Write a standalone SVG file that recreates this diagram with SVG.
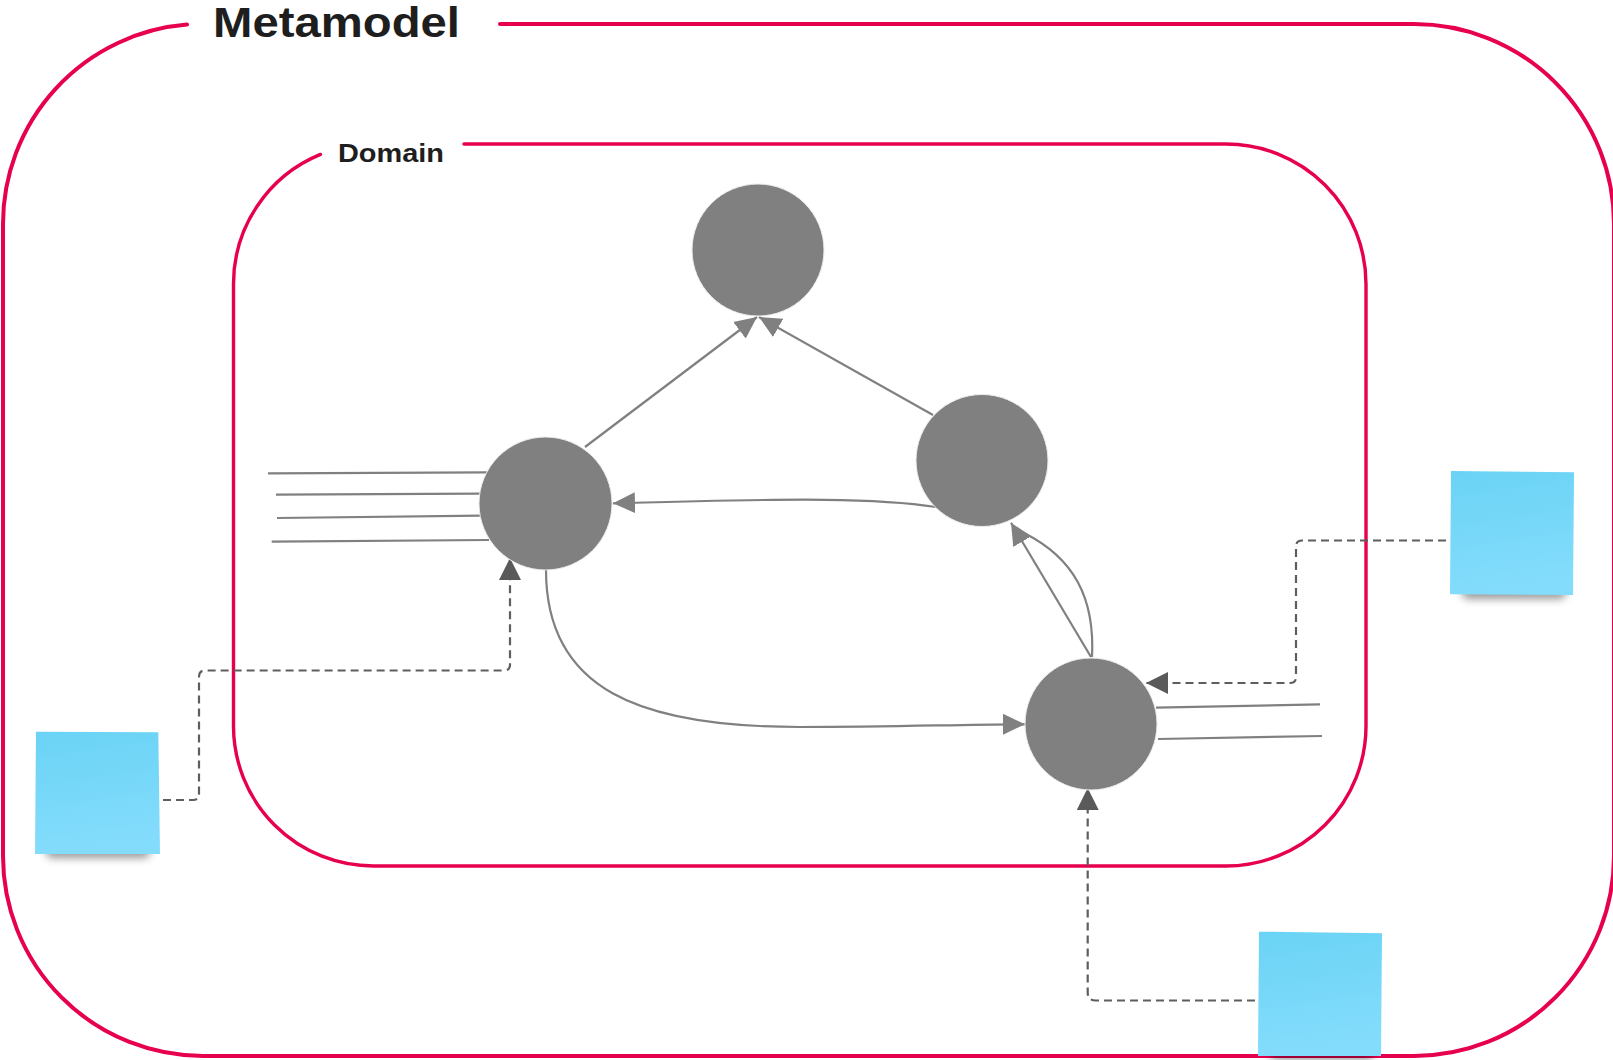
<svg xmlns="http://www.w3.org/2000/svg" width="1613" height="1060" viewBox="0 0 1613 1060">
<style>
.frame{fill:none;stroke:#E6004F;stroke-linecap:round}
.title{font-family:"Liberation Sans",Arial,sans-serif;font-weight:bold;fill:#1E1E1E}
.node{fill:#808080;stroke:#EDEDED;stroke-width:1}
.edge{fill:none;stroke:#808080;stroke-width:2.2}
.stub{fill:none;stroke:#808080;stroke-width:2.2}
.dash{fill:none;stroke:#5E5E5E;stroke-width:2.2;stroke-dasharray:8 5}
.sticky{fill:url(#stickyGrad)}
.shadow{fill:#000;opacity:0.4;filter:url(#blur)}
</style>
<defs>
<linearGradient id="stickyGrad" x1="0" y1="0" x2="0.15" y2="1">
<stop offset="0" stop-color="#6AD3F5"/>
<stop offset="1" stop-color="#84DCFC"/>
</linearGradient>
<filter id="blur" x="-20%" y="-100%" width="140%" height="300%">
<feGaussianBlur stdDeviation="4"/>
</filter>
<marker id="arrowSolid" markerUnits="userSpaceOnUse" markerWidth="22" markerHeight="22" viewBox="0 0 20 19" refX="20" refY="9.5" orient="auto">
<path d="M0,0 L20,9.5 L0,19 Z" fill="#808080"/>
</marker>
<marker id="arrowDash" markerUnits="userSpaceOnUse" markerWidth="22" markerHeight="22" viewBox="0 0 20 20" refX="20" refY="10" orient="auto">
<path d="M0,0 L20,10 L0,20 Z" fill="#5A5A5A"/>
</marker>
</defs>

<rect width="1613" height="1060" fill="#FFFFFF"/>

<g id="metamodel">
<path class="frame" stroke-width="4" d="M500,24 H1414 A200,200 0 0 1 1614,224 V856 A200,200 0 0 1 1414,1056 H203 A200,200 0 0 1 3,856 V224 A200,200 0 0 1 187,24.6"/>
<text class="title" x="213" y="37" font-size="43" textLength="247" lengthAdjust="spacingAndGlyphs">Metamodel</text>
</g>

<g id="domain">
<path class="frame" stroke-width="3.4" d="M464,144 H1226 A140,140 0 0 1 1366,284 V726 A140,140 0 0 1 1226,866 H373.5 A140,140 0 0 1 233.5,726 V284 A140,140 0 0 1 320.5,154.4"/>
<text class="title" x="338" y="162" font-size="26.5" textLength="106" lengthAdjust="spacingAndGlyphs">Domain</text>
</g>

<g id="connectors">
<line class="stub" x1="268" y1="473.3" x2="487" y2="472.3"/>
<line class="stub" x1="276" y1="494.7" x2="480" y2="493.7"/>
<line class="stub" x1="277" y1="518" x2="481" y2="515.7"/>
<line class="stub" x1="271.7" y1="541.7" x2="489" y2="540"/>
<line class="stub" x1="1156" y1="707.7" x2="1320" y2="704.3"/>
<line class="stub" x1="1158" y1="739" x2="1322" y2="736"/>

<line class="edge" x1="585" y1="447" x2="757" y2="317" marker-end="url(#arrowSolid)"/>
<line class="edge" x1="933" y1="415" x2="759" y2="317" marker-end="url(#arrowSolid)"/>
<path class="edge" d="M936,507 C880,498 800,498 613,503.3" marker-end="url(#arrowSolid)"/>
<path class="edge" d="M546,570 C546,690 640,727 800,727 C900,727 960,724.3 1025,724.3" marker-end="url(#arrowSolid)"/>
<line class="edge" x1="1091" y1="657" x2="1011" y2="522.7" marker-end="url(#arrowSolid)"/>
<path class="edge" d="M1092,657 C1095,598 1074,558 1024,533"/>

<path class="dash" d="M163,800 H193 Q199,800 199,794 V677 Q199,670.5 205,670.5 H504 Q510,670.5 510,664.5 V558" marker-end="url(#arrowDash)"/>
<path class="dash" d="M1446,540.5 H1302 Q1296,540.5 1296,546.5 V677 Q1296,683 1290,683 H1146" marker-end="url(#arrowDash)"/>
<path class="dash" d="M1255,1000.5 H1095.7 Q1087.7,1000.5 1087.7,992.5 V788" marker-end="url(#arrowDash)"/>
</g>

<g id="node-top"><circle class="node" cx="758" cy="250" r="66"/></g>
<g id="node-left"><circle class="node" cx="545.5" cy="503.5" r="66.5"/></g>
<g id="node-right"><circle class="node" cx="982" cy="460.5" r="66"/></g>
<g id="node-bottom"><circle class="node" cx="1091" cy="724" r="66"/></g>

<g id="sticky-left">
<rect class="shadow" x="46" y="842" width="104" height="16" rx="6"/>
<polygon class="sticky" points="36,731.7 158.3,732.3 160,854 35,854"/>
</g>
<g id="sticky-right">
<rect class="shadow" x="1462" y="583" width="104" height="16" rx="6"/>
<polygon class="sticky" points="1451,471 1574,472.3 1573,595 1450,594.3"/>
</g>
<g id="sticky-bottom">
<rect class="shadow" x="1270" y="1046" width="104" height="14" rx="6"/>
<polygon class="sticky" points="1259,931.7 1382,933.3 1381,1056 1258,1056"/>
</g>
</svg>
